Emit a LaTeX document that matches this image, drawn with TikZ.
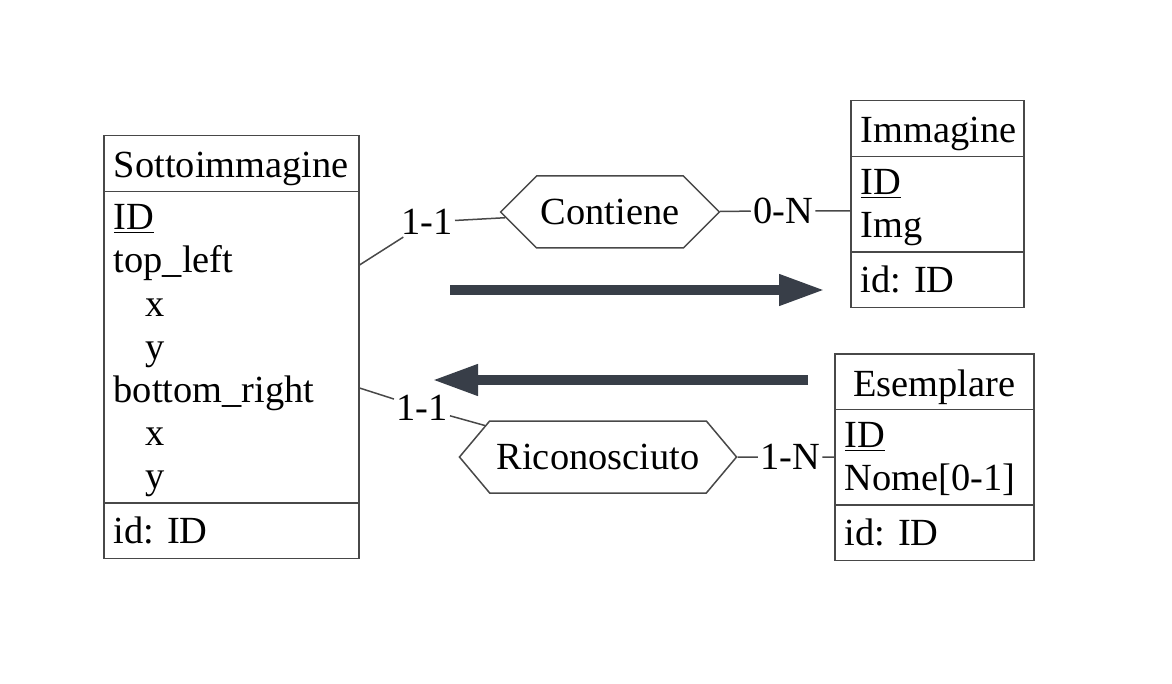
\documentclass[tikz,border=0pt]{standalone}
\usepackage{fontspec}
\setmainfont{Liberation Serif}
\usetikzlibrary{arrows.meta,calc,shapes.multipart,shapes.symbols}

\definecolor{arrowgray}{RGB}{56,62,72}
\definecolor{linegray}{RGB}{72,72,72}

\newcommand{\headstrut}{\rule[-4pt]{0pt}{22.5pt}}
\newcommand{\topstrut}{\rule{0pt}{16.5pt}}
\newcommand{\botstrut}{\rule[-4.4pt]{0pt}{4.4pt}}
\newcommand{\keystrut}{\rule[-5pt]{0pt}{22.5pt}}

\begin{document}
\begin{tikzpicture}
[
                     x =  0.5pt,
                     y = -0.5pt,
                  font = \fontsize{19.2}{21.6}\selectfont\frenchspacing,
            ent/.style = { draw=linegray, line width=0.75pt, rectangle split, rectangle split parts=3, anchor=north west, inner xsep=5pt, inner ysep=2.25pt, align=left },
            rel/.style = { draw=linegray, line width=0.75pt, signal, signal to=east and west, minimum height=36pt, inner xsep=2pt },
           card/.style = { draw=none, fill=none, inner sep=1pt },
           link/.style = { draw=linegray, line width=0.75pt },
       bigarrow/.style = { -{Triangle[length=23pt,width=14.5pt]}, line width=5pt, draw=arrowgray }
]

    \useasboundingbox (0,0) rectangle (1172,684);

	\node (sotto) at (103,135) [ent, text width=117.5pt] {\hbox to\hsize{\hfil\headstrut Sottoimmagine\hfil}\nodepart{two}\topstrut\underline{ID}\\top\_left\\\hspace*{16pt}x\\\hspace*{16pt}y\\bottom\_right\\\hspace*{16pt}x\\\hspace*{16pt}y\botstrut\nodepart{three}\keystrut id: ID};
	\node  (imm) at (850,100) [ent, text width=76.5pt]  {\hbox to\hsize{\hfil\headstrut Immagine\hfil}\nodepart{two}\topstrut\underline{ID}\\Img\botstrut\nodepart{three}\keystrut id: ID};
	\node (esem) at (834,353) [ent, text width=89.5pt]  {\hbox to\hsize{\hfil\headstrut Esemplare\hfil}\nodepart{two}\topstrut\underline{ID}\\Nome[0-1]\botstrut\nodepart{three}\keystrut id: ID};

	\node (cont) at (610,212) [rel, signal pointer angle=90]  {Contiene};
	\node  (ric) at (598,457) [rel, signal pointer angle=100, inner xsep=3.5pt] {Riconosciuto};

	\node  (c11) at (427,222) [card] {1-1};
	\node  (c0n) at (783,211) [card] {0-N};
	\node  (r11) at (422,408) [card] {1-1};
	\node  (r1n) at (790,457) [card] {1-N};

	\draw[link] ($(sotto.north east)+(0,130)$) -- (c11) -- (cont);
	\draw[link] (cont) -- (c0n) -- (c0n -| imm.west);
	\draw[link] ($(sotto.north east)+(0,253)$) -- (r11) -- (ric);
	\draw[link] (ric) -- (r1n) -- (r1n -| esem.west);

	\coordinate (a1) at (450,290);	\coordinate (a2) at (825,290);
	\coordinate (b1) at (808,380);	\coordinate (b2) at (432,380);

	\draw[bigarrow] (a1) -- (a2);
	\draw[bigarrow] (b1) -- (b2);

\end{tikzpicture}
\end{document}
